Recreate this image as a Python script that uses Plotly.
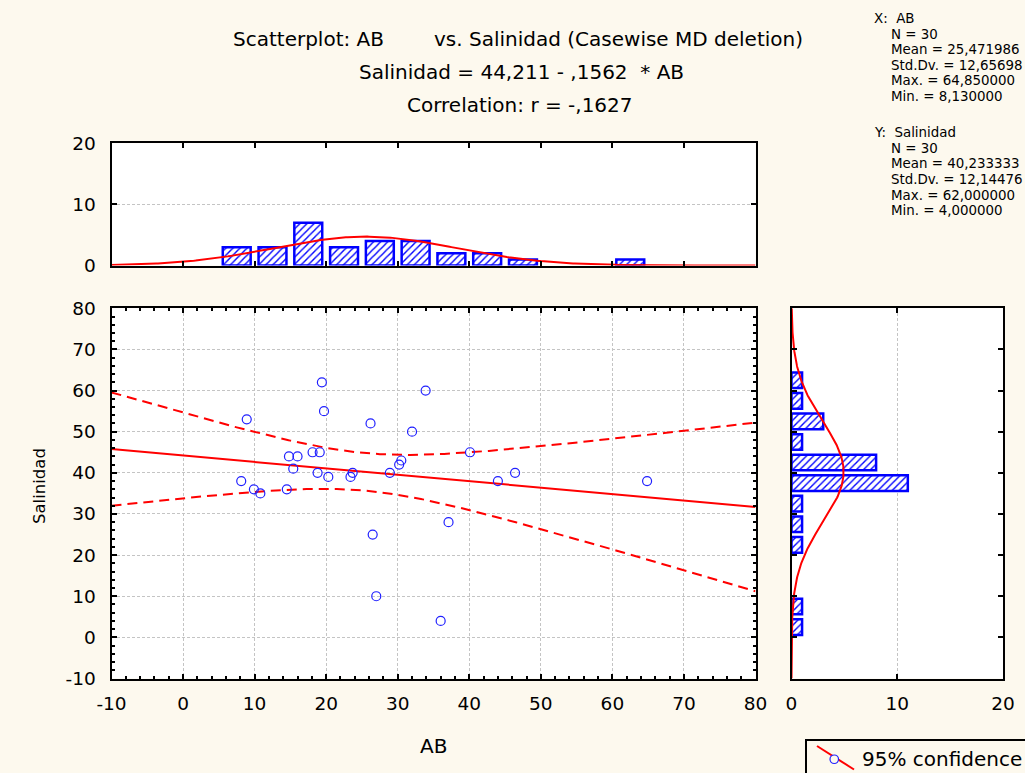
import numpy as np
import plotly.graph_objects as go

# ---------------- data ----------------
ab = [19.4, 33.9, 19.7, 8.9, 26.2, 32.0, 14.8, 16.0, 18.1, 19.1,
      15.4, 18.8, 20.3, 23.4, 23.7, 28.9, 30.2, 30.5, 8.13, 9.9,
      10.8, 14.5, 26.5, 27.0, 36.0, 37.1, 40.1, 44.0, 46.4, 64.85]
salinidad = [62, 60, 55, 53, 52, 50, 44, 44, 45, 45,
             41, 40, 39, 39, 40, 40, 42, 43, 38, 36,
             35, 36, 25, 10, 4, 28, 45, 38, 40, 38]

ab_bin_centers = [7.5, 12.5, 17.5, 22.5, 27.5, 32.5, 37.5, 42.5, 47.5, 62.5]
ab_counts = [3, 3, 7, 3, 4, 4, 2, 2, 1, 1]
sal_bin_centers = [2.5, 7.5, 22.5, 27.5, 32.5, 37.5, 42.5, 47.5, 52.5, 57.5, 62.5]
sal_counts = [1, 1, 1, 1, 1, 11, 8, 1, 3, 1, 1]

N = 30
AB_MEAN = 25.471986
AB_SD = 12.65698
SAL_MEAN = 40.233333
SAL_SD = 12.14476
INTERCEPT = 44.211
SLOPE = -0.1562
R = -0.1627
T_CRIT = 2.0484   # t(0.975, 28)
BIN_WIDTH = 5

main_ticks = [-10, 0, 10, 20, 30, 40, 50, 60, 70, 80]
main_tick_labels = ["-10", "0", "10", "20", "30", "40", "50", "60", "70", "80"]
hist_ticks = [0, 10, 20]
hist_tick_labels = ["0", "10", "20"]

title_left = "Scatterplot: AB"
title_right = "vs. Salinidad (Casewise MD deletion)"
title_eq = "Salinidad = 44,211 - ,1562 \u00a0* AB"
title_corr = "Correlation: r = -,1627"
stats_x = ["X:\u00a0\u00a0AB", "N = 30", "Mean = 25,471986", "Std.Dv. = 12,65698",
           "Max. = 64,850000", "Min. = 8,130000"]
stats_y = ["Y:\u00a0\u00a0Salinidad", "N = 30", "Mean = 40,233333", "Std.Dv. = 12,14476",
           "Max. = 62,000000", "Min. = 4,000000"]
legend_text = "95% confidence"

# ---------------- derived curves ----------------
grid = np.linspace(-10, 80, 361)
fit = INTERCEPT + SLOPE * grid
s_res = SAL_SD * np.sqrt((1 - R ** 2) * (N - 1) / (N - 2))
sxx = (N - 1) * AB_SD ** 2
half = T_CRIT * s_res * np.sqrt(1.0 / N + (grid - AB_MEAN) ** 2 / sxx)


def normal_curve(g, mean, sd):
    return N * BIN_WIDTH * np.exp(-0.5 * ((g - mean) / sd) ** 2) / (sd * np.sqrt(2 * np.pi))


W, H = 1025, 773
BG = "#fdf9ee"
BLUE = "#0000ff"
RED = "#ff0000"
FONT = "DejaVu Sans"


def px(x):
    return x / W


def py(y):
    return 1 - y / H


fig = go.Figure()

hatch = dict(shape="/", fgcolor=BLUE, bgcolor="white", size=5, solidity=0.28)

# top histogram
fig.add_trace(go.Bar(x=ab_bin_centers, y=ab_counts, width=3.9, xaxis="x2", yaxis="y2",
                     marker=dict(color="white", line=dict(color=BLUE, width=2.5), pattern=hatch)))
fig.add_trace(go.Scatter(x=grid, y=normal_curve(grid, AB_MEAN, AB_SD), mode="lines",
                         xaxis="x2", yaxis="y2", line=dict(color=RED, width=2)))

# right histogram
fig.add_trace(go.Bar(x=sal_counts, y=sal_bin_centers, width=3.8, orientation="h",
                     xaxis="x3", yaxis="y3",
                     marker=dict(color="white", line=dict(color=BLUE, width=2.5), pattern=hatch)))
fig.add_trace(go.Scatter(x=normal_curve(grid, SAL_MEAN, SAL_SD), y=grid, mode="lines",
                         xaxis="x3", yaxis="y3", line=dict(color=RED, width=2)))

# scatter, regression and confidence bands
fig.add_trace(go.Scatter(x=grid, y=fit + half, mode="lines",
                         line=dict(color=RED, width=2, dash="10px,6px")))
fig.add_trace(go.Scatter(x=grid, y=fit - half, mode="lines",
                         line=dict(color=RED, width=2, dash="10px,6px")))
fig.add_trace(go.Scatter(x=grid, y=fit, mode="lines", line=dict(color=RED, width=2)))
fig.add_trace(go.Scatter(x=ab, y=salinidad, mode="markers",
                         marker=dict(symbol="circle-open", size=9, color="#2020ff",
                                     line=dict(width=1.2, color="#2020ff"))))

tickfont = dict(family=FONT, size=18.5, color="black")
grid_style = dict(gridcolor="#c4c4c4", griddash="3px,2px", gridwidth=1)
common = dict(showline=True, linecolor="black", linewidth=2, mirror="allticks",
              ticks="inside", ticklen=5, tickwidth=1.5, tickcolor="black",
              zeroline=False, tickfont=tickfont, layer="above traces", automargin=False)
minor = dict(ticks="inside", ticklen=3, dtick=2, tick0=0, tickcolor="black", showgrid=False)

x_dom = [px(111.5), px(755.5)]
y_dom = [py(678.5), py(308.3)]

fig.update_layout(
    template="none",
    width=W, height=H, margin=dict(l=0, r=0, t=0, b=0, pad=0, autoexpand=False),
    paper_bgcolor=BG, plot_bgcolor="white", showlegend=False,
    xaxis=dict(domain=x_dom, anchor="y", range=[-10, 80], tickvals=main_ticks,
               ticktext=main_tick_labels, showgrid=True, ticklabelstandoff=7,
               minor=minor, **grid_style, **common),
    yaxis=dict(domain=y_dom, anchor="x", range=[-10, 80], tickvals=main_ticks,
               ticktext=main_tick_labels, showgrid=True, ticklabelstandoff=10,
               minor=minor, **grid_style, **common),
    xaxis2=dict(domain=x_dom, anchor="y2", range=[-10, 80], tickvals=main_ticks,
                showticklabels=False, showgrid=False, **common),
    yaxis2=dict(domain=[py(265.5), py(143.3)], anchor="x2", range=[0, 20], tickvals=hist_ticks,
                ticktext=hist_tick_labels, showgrid=True, ticklabelstandoff=10,
                **grid_style, **common),
    xaxis3=dict(domain=[px(791.5), px(1003)], anchor="y3", range=[0, 20], tickvals=hist_ticks,
                ticktext=hist_tick_labels, showgrid=True, ticklabelstandoff=7,
                **grid_style, **common),
    yaxis3=dict(domain=y_dom, anchor="x3", range=[-10, 80], tickvals=main_ticks,
                showticklabels=False, showgrid=False, **common),
)

ann = []
tfont = dict(family=FONT, size=20, color="black")
ann.append(dict(x=px(231), y=py(39), text=title_left, xanchor="left", font=tfont))
ann.append(dict(x=px(432), y=py(39), text=title_right, xanchor="left", font=tfont))
ann.append(dict(x=px(521), y=py(72), text=title_eq, xanchor="center", font=tfont))
ann.append(dict(x=px(520), y=py(105), text=title_corr, xanchor="center", font=tfont))
ann.append(dict(x=px(433.5), y=py(746), text="AB", xanchor="center", font=tfont))
ann.append(dict(x=px(39), y=py(486), text="Salinidad", textangle=-90, xanchor="center",
                font=dict(family=FONT, size=16.5, color="black")))

sfont = dict(family=FONT, size=13.4, color="black")
line_step = 15.5
for i, t in enumerate(stats_x):
    xx = 872 if i == 0 else 889
    ann.append(dict(x=px(xx), y=py(19 + i * line_step), text=t, xanchor="left", font=sfont))
for i, t in enumerate(stats_y):
    xx = 872 if i == 0 else 889
    ann.append(dict(x=px(xx), y=py(133 + i * line_step), text=t, xanchor="left", font=sfont))

ann.append(dict(x=px(860), y=py(759), text=legend_text, xanchor="left", font=tfont))

for a in ann:
    a.update(xref="paper", yref="paper", yanchor="middle", showarrow=False)
fig.update_layout(annotations=ann)

shapes = [
    dict(type="rect", xref="paper", yref="paper", x0=px(806), x1=px(1035), y0=py(740), y1=py(790),
         line=dict(color="black", width=2), fillcolor=BG),
    dict(type="line", xref="paper", yref="paper", x0=px(817), y0=py(746), x1=px(854), y1=py(769.5),
         line=dict(color=RED, width=2)),
    dict(type="circle", xref="paper", yref="paper", x0=px(830), x1=px(838.5), y0=py(763.5), y1=py(755),
         line=dict(color="#2020ff", width=1.2), fillcolor=BG),
]
fig.update_layout(shapes=shapes)

fig.write_html(
    "out.html",
    config={"displayModeBar": False},
    post_script="document.body.style.margin='0';document.body.style.background='%s';" % BG,
)
